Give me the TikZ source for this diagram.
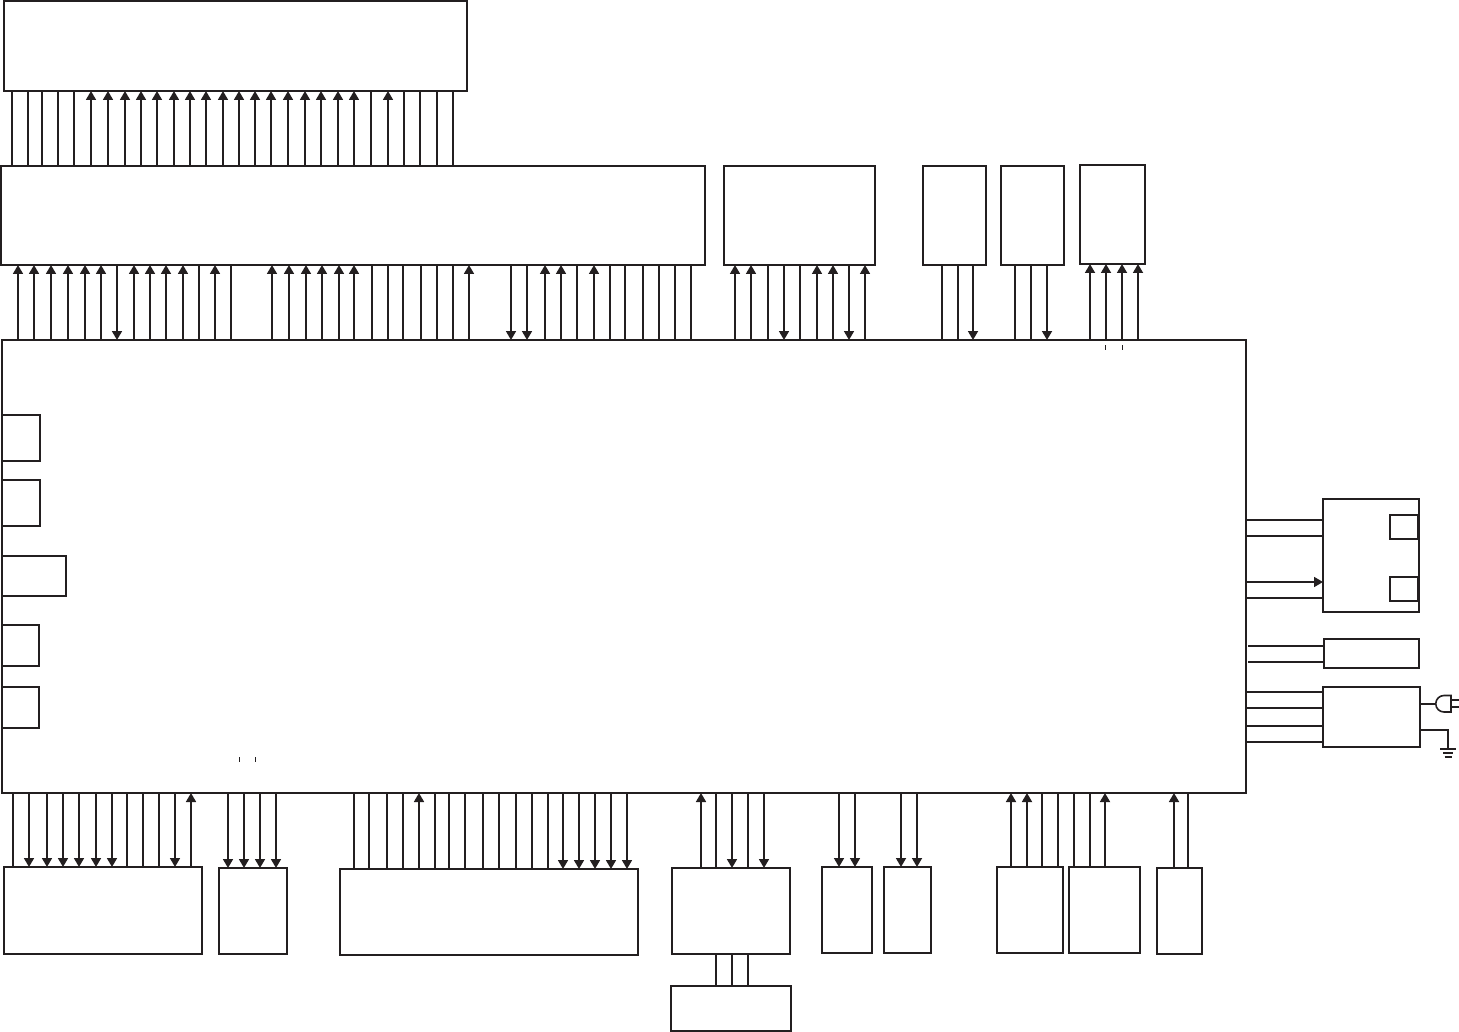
\documentclass[tikz,border=0pt]{standalone}
\usetikzlibrary{arrows.meta}
\definecolor{ink}{HTML}{231F20}
\tikzset{
  blockbox/.style={draw=ink,line width=2pt,fill=none,inner sep=0pt,outer sep=0pt,rectangle,anchor=north west},
  wire/.style={draw=ink,line width=1.7pt},
  arr/.style={wire,-{Triangle[length=9pt,width=10pt]}},
  tick/.style={draw=ink,line width=1pt}
}
% block: name, x1, y1, x2, y2
\newcommand{\blockat}[5]{\node[blockbox,minimum width={(#4-#2)*1pt},minimum height={(#5-#3)*1pt}] (#1) at (#2,#3) {};}
% vertical connectors between two blocks at a list of x positions
\newcommand{\varrow}[3]{\foreach \xx in {#3} \draw[arr] (#1 -| \xx,0) -- (#2 -| \xx,0);}
\newcommand{\vwire}[3]{\foreach \xx in {#3} \draw[wire] (#1 -| \xx,0) -- (#2 -| \xx,0);}
\newcommand{\hwire}[3]{\foreach \yy in {#3} \draw[wire] (#1 |- 0,\yy) -- (#2 |- 0,\yy);}
\begin{document}
\begin{tikzpicture}[x=1pt,y=-1pt]
\useasboundingbox (0,0) rectangle (1459,1032);
\blockat{top}{4}{1}{467}{91}
\blockat{wide}{1}{166}{705}{265}
\blockat{ua}{724}{166}{875}{265}
\blockat{ub}{923}{166}{986}{265}
\blockat{uc}{1001}{166}{1064}{265}
\blockat{ud}{1080}{165}{1145}{264}
\blockat{main}{2}{340}{1246}{793}
\blockat{la}{2}{415}{40}{461}
\blockat{lb}{2}{480}{40}{526}
\blockat{lc}{2}{556}{66}{596}
\blockat{ld}{2}{625}{39}{666}
\blockat{le}{2}{687}{39}{728}
\blockat{ra}{1323}{499}{1419}{612}
\blockat{raa}{1390}{515}{1418}{539}
\blockat{rab}{1390}{577}{1418}{601}
\blockat{rb}{1324}{639}{1419}{668}
\blockat{rc}{1323}{687}{1420}{747}
\blockat{da}{4}{867}{202}{954}
\blockat{db}{219}{868}{287}{954}
\blockat{dc}{340}{869}{638}{955}
\blockat{dd}{672}{868}{790}{954}
\blockat{dde}{671}{986}{791}{1031}
\blockat{de}{822}{867}{872}{953}
\blockat{df}{884}{867}{931}{953}
\blockat{dg}{997}{867}{1063}{953}
\blockat{dh}{1069}{867}{1140}{953}
\blockat{di}{1157}{868}{1202}{954}
% wide -> top
\vwire{wide.north}{top.south}{12,28,42,58,74,371,404,420,437,453}
\varrow{wide.north}{top.south}{91,108,125,141,157,174,190,206,223,239,255,271,288,305,321,338,354,388}
% main <-> wide
\varrow{main.north}{wide.south}{18,34,51,68,85,101,134,150,166,183,215,272,289,306,322,339,354,469,545,561,594}
\varrow{wide.south}{main.north}{117,511,527}
\vwire{main.north}{wide.south}{199,231,372,388,403,421,437,453,577,610,625,643,659,675,691}
% main <-> ua
\varrow{main.north}{ua.south}{735,751,817,833,865}
\varrow{ua.south}{main.north}{784,849}
\vwire{main.north}{ua.south}{768,800}
% main <-> ub, uc, ud
\vwire{main.north}{ub.south}{942,958}
\varrow{ub.south}{main.north}{973}
\vwire{main.north}{uc.south}{1015,1031}
\varrow{uc.south}{main.north}{1047}
\varrow{main.north}{ud.south}{1090,1106,1122,1138}
% main <-> bottom
\vwire{main.south}{da.north}{13,127,143,159}
\varrow{main.south}{da.north}{29,47,63,79,96,112,175}
\varrow{da.north}{main.south}{191}
\varrow{main.south}{db.north}{228,244,260,276}
\vwire{main.south}{dc.north}{354,369,387,403,435,449,465,483,499,516,532,548}
\varrow{dc.north}{main.south}{419}
\varrow{main.south}{dc.north}{563,579,595,611,627}
\varrow{dd.north}{main.south}{701}
\vwire{main.south}{dd.north}{716,748}
\varrow{main.south}{dd.north}{732,764}
\vwire{dd.south}{dde.north}{716,732,748}
\varrow{main.south}{de.north}{839,855}
\varrow{main.south}{df.north}{901,917}
\varrow{dg.north}{main.south}{1011,1027}
\vwire{main.south}{dg.north}{1042,1058}
\vwire{main.south}{dh.north}{1074,1090}
\varrow{dh.north}{main.south}{1105}
\varrow{di.north}{main.south}{1174}
\vwire{main.south}{di.north}{1188}
% right side
\hwire{main.east}{ra.west}{520,536,598}
\draw[arr] (main.east |- 0,582) -- (ra.west |- 0,582);
\coordinate (rbstart) at (1248,650);
\hwire{rbstart}{rb.west}{646,662}
\hwire{main.east}{rc.west}{692,708,726,742}
% plug
\coordinate (plugin) at (1436,704);
\draw[wire] (rc.east |- plugin) -- (plugin);
\draw[draw=ink,line width=1.6pt] (1451,695.5) -- (1444,695.5) arc[start angle=-90,end angle=-270,radius=8.25] -- (1451,712) -- cycle;
\draw[wire] (1451,700) -- (1459,700) (1451,707) -- (1459,707);
% ground
\coordinate (gnd) at (1448,749);
\draw[wire] (rc.east |- 0,730) -- (gnd |- 0,730) -- (gnd);
\draw[wire] (1440,749) -- (1456,749) (1443,753) -- (1453,753) (1444.5,757) -- (1451.5,757);
% small ticks
\draw[tick] (1105.5,345) -- (1105.5,350) (1122,345) -- (1122,350);
\draw[tick] (239,757) -- (239,762) (255,757) -- (255,762);
\end{tikzpicture}
\end{document}
